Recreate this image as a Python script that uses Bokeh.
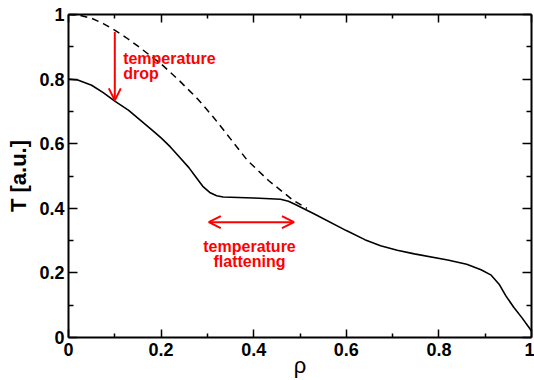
from bokeh.plotting import figure
from bokeh.models import LinearAxis, FixedTicker, Arrow, OpenHead, Label, Range1d
from bokeh.embed import file_html
from bokeh.resources import INLINE

# data
rho_solid = [0.0, 0.02, 0.05, 0.075, 0.1, 0.13, 0.155, 0.18, 0.2, 0.22, 0.24, 0.26, 0.275, 0.29,
             0.305, 0.32, 0.334, 0.4, 0.458, 0.475, 0.49, 0.53, 0.6, 0.64, 0.674, 0.71, 0.747,
             0.819, 0.86, 0.891, 0.912, 0.93, 0.945, 0.962, 0.98, 1.0]
T_solid = [0.80, 0.797, 0.781, 0.758, 0.732, 0.703, 0.673, 0.643, 0.618, 0.59, 0.558, 0.526,
           0.497, 0.468, 0.449, 0.439, 0.435, 0.432, 0.428, 0.422, 0.412, 0.383, 0.331, 0.303,
           0.284, 0.27, 0.259, 0.24, 0.227, 0.21, 0.194, 0.165, 0.128, 0.093, 0.06, 0.02]

rho_dash = [0.0, 0.025, 0.05, 0.075, 0.097, 0.125, 0.15, 0.2, 0.241, 0.28, 0.313, 0.35, 0.386,
            0.432, 0.486, 0.515]
T_dash = [1.0, 0.997, 0.988, 0.972, 0.954, 0.928, 0.902, 0.847, 0.793, 0.737, 0.682, 0.615,
          0.549, 0.486, 0.424, 0.40]

tick_values = [0.0, 0.2, 0.4, 0.6, 0.8, 1.0]
tick_labels = ["0", "0.2", "0.4", "0.6", "0.8", "1"]
minor_values = [0.1, 0.3, 0.5, 0.7, 0.9]

# annotations (data coordinates)
drop_arrow = dict(x=0.1, y_start=0.946, y_end=0.734)
drop_text = ["temperature", "drop"]
drop_text_pos = dict(x=0.118, y=[0.863, 0.817])
flat_arrow = dict(x_start=0.303, x_end=0.487, y=0.357)
flat_text = ["temperature", "flattening"]
flat_text_pos = dict(x=0.391, y=[0.281, 0.234])

RED = "#ff0000"
FONT = "Liberation Sans"

p = figure(width=534, height=380, output_backend="svg", toolbar_location=None,
           x_range=Range1d(0, 1), y_range=Range1d(0, 1),
           x_axis_type=None, y_axis_type=None,
           min_border_left=68, min_border_right=3, min_border_top=14, min_border_bottom=43)
p.grid.visible = False
p.outline_line_color = None
p.background_fill_color = "white"
p.border_fill_color = "white"

overrides = {v: l for v, l in zip(tick_values, tick_labels)}


def make_axis(show_labels, is_x):
    ax = LinearAxis(ticker=FixedTicker(ticks=tick_values, minor_ticks=minor_values))
    ax.axis_line_width = 2
    ax.axis_line_color = "black"
    ax.major_tick_line_width = 1.5
    ax.minor_tick_line_width = 1.5
    ax.major_tick_out = 0
    ax.minor_tick_out = 0
    ax.major_tick_in = 8 if is_x else 9
    ax.minor_tick_in = 4 if is_x else 5
    if show_labels:
        ax.major_label_overrides = overrides
        ax.major_label_text_font = FONT
        ax.major_label_text_font_style = "bold"
        ax.major_label_text_font_size = "18px"
        ax.major_label_text_color = "black"
        ax.major_label_standoff = 5 if is_x else 4
    else:
        ax.major_label_text_font_size = "0px"
        ax.major_label_standoff = 0
        ax.major_label_text_alpha = 0
    return ax


xb = make_axis(True, True)
xb.axis_label = "ρ"
xb.axis_label_text_font = FONT
xb.axis_label_text_font_style = "normal"
xb.axis_label_text_font_size = "22px"
xb.axis_label_text_color = "black"
xb.axis_label_standoff = -6
p.add_layout(xb, "below")

yl = make_axis(True, False)
yl.axis_label = "T [a.u.]"
yl.axis_label_text_font = FONT
yl.axis_label_text_font_style = "bold"
yl.axis_label_text_font_size = "22px"
yl.axis_label_text_color = "black"
yl.axis_label_standoff = 5
p.add_layout(yl, "left")

p.add_layout(make_axis(False, True), "above")
p.add_layout(make_axis(False, False), "right")

p.line(rho_dash, T_dash, line_color="black", line_width=1.5, line_dash="7 5")
p.line(rho_solid, T_solid, line_color="black", line_width=1.6)

p.add_layout(Arrow(end=OpenHead(size=12, line_color=RED, line_width=2), start=None,
                   x_start=drop_arrow["x"], y_start=drop_arrow["y_start"],
                   x_end=drop_arrow["x"], y_end=drop_arrow["y_end"],
                   line_color=RED, line_width=2))
p.add_layout(Arrow(end=OpenHead(size=12, line_color=RED, line_width=2),
                   start=OpenHead(size=12, line_color=RED, line_width=2),
                   x_start=flat_arrow["x_start"], y_start=flat_arrow["y"],
                   x_end=flat_arrow["x_end"], y_end=flat_arrow["y"],
                   line_color=RED, line_width=2))

for txt, yy in zip(drop_text, drop_text_pos["y"]):
    p.add_layout(Label(x=drop_text_pos["x"], y=yy, text=txt, text_color=RED,
                       text_font=FONT, text_font_style="bold", text_font_size="16px",
                       text_align="left", text_baseline="middle"))
for txt, yy in zip(flat_text, flat_text_pos["y"]):
    p.add_layout(Label(x=flat_text_pos["x"], y=yy, text=txt, text_color=RED,
                       text_font=FONT, text_font_style="bold", text_font_size="16px",
                       text_align="center", text_baseline="middle"))

open("out.html", "w").write(file_html(p, INLINE))
